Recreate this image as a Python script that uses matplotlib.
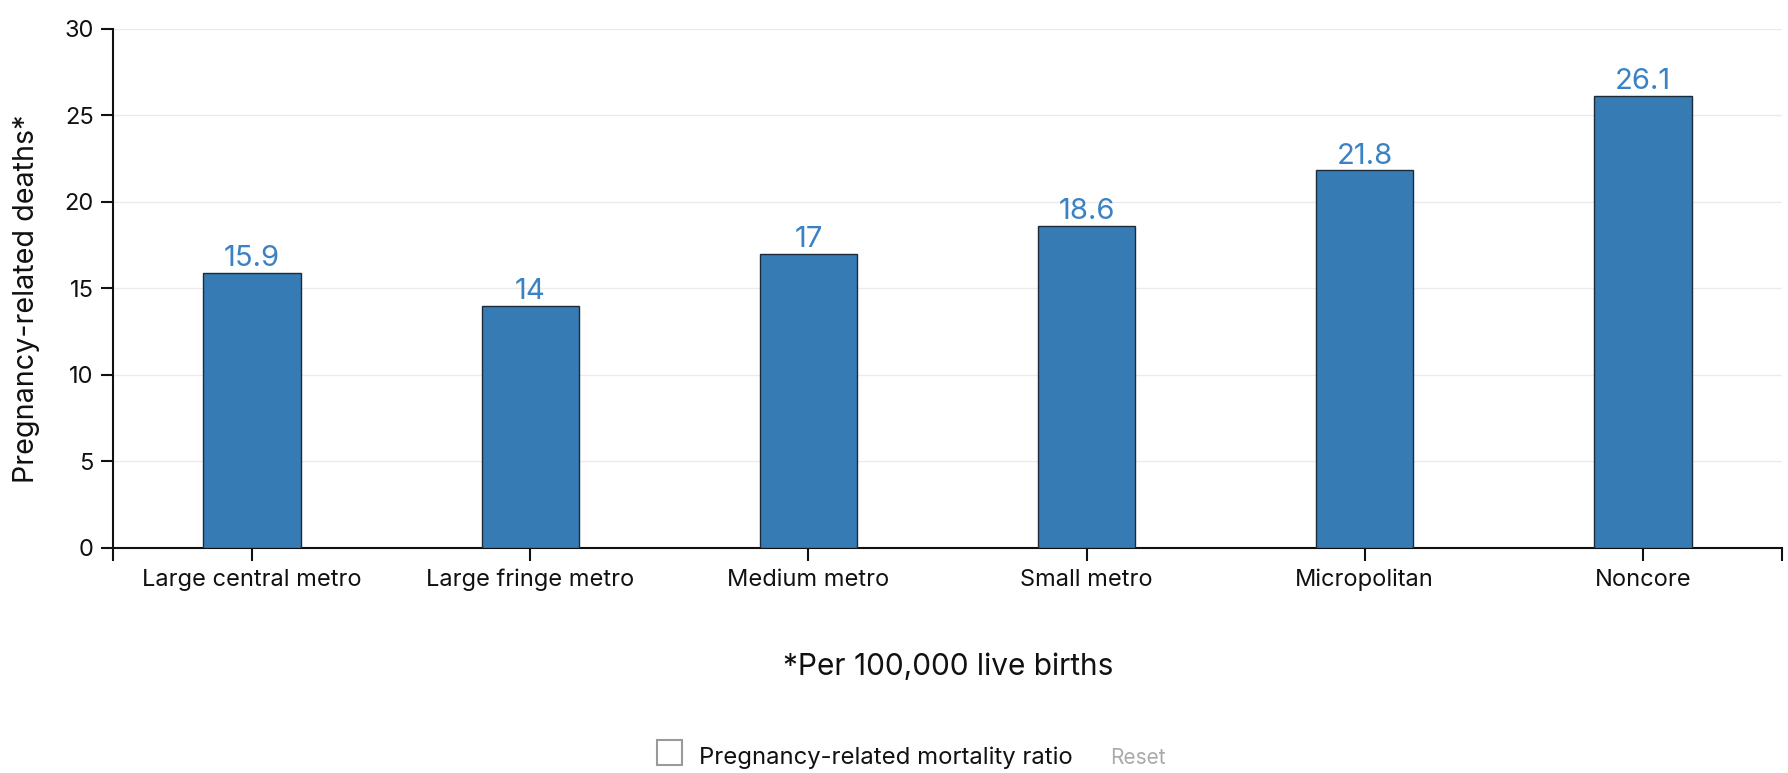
import matplotlib
matplotlib.use("Agg")
import matplotlib.pyplot as plt
from matplotlib.patches import Rectangle

categories = ["Large central metro", "Large fringe metro", "Medium metro",
              "Small metro", "Micropolitan", "Noncore"]
values = [15.9, 14, 17, 18.6, 21.8, 26.1]
value_labels = ["15.9", "14", "17", "18.6", "21.8", "26.1"]
yticks = [0, 5, 10, 15, 20, 25, 30]

plt.rcParams['font.family'] = ['Inter', 'DejaVu Sans']

W, H = 1788, 773
fig = plt.figure(figsize=(W / 100, H / 100), dpi=100)
left, right, top, bottom = 113, 1782, 28.5, 548
ax = fig.add_axes([left / W, 1 - bottom / H, (right - left) / W, (bottom - top) / H])

bar_color = "#377bb5"
x = list(range(len(categories)))
ax.bar(x, values, width=0.35, color=bar_color, edgecolor="#1c2b3a", linewidth=1.0, zorder=3)
for xi, v, lab in zip(x, values, value_labels):
    ax.annotate(lab, (xi, v), xytext=(0, 0.5), textcoords="offset points",
                ha="center", va="bottom", fontsize=21, color="#3a82c3")

ax.set_xlim(-0.5, len(categories) - 0.5)
ax.set_ylim(0, 30)
ax.set_yticks(yticks)
ax.set_yticklabels([str(t) for t in yticks])
ax.set_xticks(x)
ax.set_xticklabels(categories)
ax.set_xticks([-0.5, len(categories) - 0.5], minor=True)
ax.tick_params(axis="both", which="both", length=9, width=1.5, color="#111111",
               labelsize=17, labelcolor="#111111")
ax.tick_params(axis="x", which="major", pad=6)
ax.tick_params(axis="y", pad=5)

for s in ["top", "right"]:
    ax.spines[s].set_visible(False)
for s in ["left", "bottom"]:
    ax.spines[s].set_linewidth(1.5)
    ax.spines[s].set_color("#111111")

ax.grid(axis="y", color="#ebebeb", linewidth=1.0, zorder=0)
ax.set_axisbelow(True)

ax.set_ylabel("Pregnancy-related deaths*", fontsize=20.7, color="#111111")
ax.yaxis.set_label_coords(-(113 - 40) / (right - left), (548 - 299) / (bottom - top))

fig.text(948 / W, 1 - 667 / H, "*Per 100,000 live births", ha="center", va="center",
         fontsize=21.5, color="#111111")

# legend-like checkbox
fig.add_artist(Rectangle((657 / W, 1 - 765 / H), 25 / W, 25 / H, transform=fig.transFigure,
                         facecolor="white", edgecolor="#9a9a9a", linewidth=1.5))
fig.text(699 / W, 1 - 758 / H, "Pregnancy-related mortality ratio", ha="left", va="center",
         fontsize=17.2, color="#111111")
fig.text(1110 / W, 1 - 758 / H, "Reset", ha="left", va="center", fontsize=15, color="#aaaaaa")

fig.savefig("out.png", dpi=100, facecolor="white")
